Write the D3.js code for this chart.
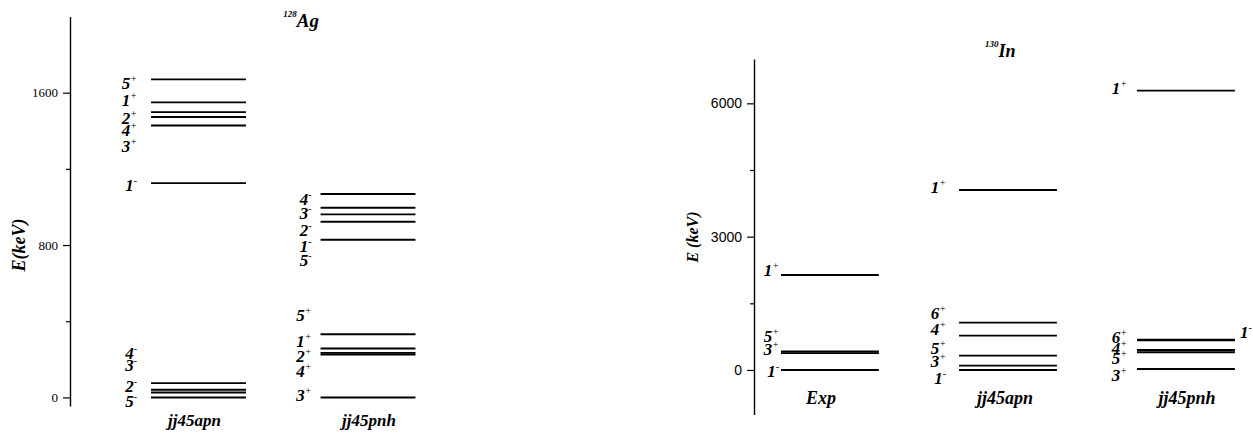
<!DOCTYPE html>
<html>
<head>
<meta charset="utf-8">
<script src="https://cdn.jsdelivr.net/npm/d3@7"></script>
<style>
  body { margin: 0; background: #fff; }
  svg { display: block; }
</style>
</head>
<body>
<svg id="chart" width="1253" height="436"></svg>
<script>
// ---- 128Ag level schemes (keV) ----
const agColumns = ["jj45apn", "jj45pnh"];
const agApnEnergy  = [1670, 1549, 1498, 1472, 1428, 1125, 75, 40, 26, 0];
const agApnSpin    = ["5+", "1+", "2+", "4+", "3+", "1-", "4-", "3-", "2-", "5-"];
const agApnLabelAt = [1649, 1561, 1467, 1404, 1316, 1115, 231, 170, 56, -23];
const agPnhEnergy  = [1068, 996, 961, 922, 828, 332, 257, 234, 225, 0];
const agPnhSpin    = ["4-", "3-", "2-", "1-", "5-", "5+", "1+", "2+", "4+", "3+"];
const agPnhLabelAt = [1041, 966, 879, 795, 721, 432, 292, 213, 134, 12];
const agTicks      = [0, 800, 1600];
const agMinorTicks = [400, 1200];

// ---- 130In level schemes (keV) ----
const inColumns = ["Exp", "jj45apn", "jj45pnh"];
const inExpEnergy  = [2138, 415, 378, 0];
const inExpSpin    = ["1+", "5+", "3+", "1-"];
const inExpLabelAt = [2234, 749, 450, -38];
const inApnEnergy  = [4050, 1065, 772, 322, 97, 0];
const inApnSpin    = ["1+", "6+", "4+", "5+", "3+", "1-"];
const inApnLabelAt = [4095, 1276, 900, 488, 187, -187];
const inPnhEnergy  = [6285, 680, 670, 450, 400, 22];
const inPnhSpin    = ["1+", "1-", "6+", "4+", "5+", "3+"];
const inPnhLabelAt = [6338, 846, 736, 488, 263, -135];
const inTicks      = [0, 3000, 6000];
const inMinorTicks = [1500, 4500];

const SERIF = "'Liberation Serif', 'Times New Roman', serif";
const SANS  = "'Liberation Sans', Arial, sans-serif";

const svg = d3.select("#chart");

function levelRows(energy, spin, labelAt, rightSide) {
  return energy.map((e, i) => ({
    e, spin: spin[i], labelAt: labelAt[i],
    right: rightSide ? rightSide.includes(spin[i]) : false
  }));
}

function drawPanel(p) {
  const g = svg.append("g");

  const x = d3.scaleBand()
    .domain(p.columns)
    .range(p.xRange)
    .paddingInner(p.padIn)
    .paddingOuter(p.padOut);

  const y = d3.scaleLinear().domain(p.yDomain).range(p.yRange);

  // axis with major ticks and labels
  const axis = d3.axisLeft(y)
    .tickValues(p.ticks)
    .tickFormat(d3.format("d"))
    .tickSize(7)
    .tickSizeOuter(0)
    .tickPadding(5);
  const ag = g.append("g")
    .attr("transform", `translate(${p.axisX},0)`)
    .attr("font-family", p.tickFont)
    .attr("font-size", p.tickSize)
    .call(axis);
  ag.select(".domain").attr("stroke", "#000").attr("stroke-width", 1.4);
  ag.selectAll(".tick line").attr("stroke", "#000").attr("stroke-width", 1.2);
  ag.selectAll(".tick text")
    .attr("fill", "#000")
    .style("font-family", p.tickFont)
    .style("font-size", p.tickSize + "px");

  // minor ticks
  const minor = d3.axisLeft(y)
    .tickValues(p.minorTicks)
    .tickSize(4)
    .tickSizeOuter(0)
    .tickFormat("");
  const mg = g.append("g")
    .attr("transform", `translate(${p.axisX},0)`)
    .call(minor);
  mg.select(".domain").remove();
  mg.selectAll(".tick line").attr("stroke", "#000").attr("stroke-width", 1.2);

  // y-axis title
  g.append("text")
    .attr("transform", `translate(${p.yTitleX},${p.yTitleY}) rotate(-90)`)
    .attr("text-anchor", "middle")
    .style("font-family", SERIF)
    .style("font-weight", "bold")
    .style("font-style", "italic")
    .style("font-size", p.yTitleSize + "px")
    .text(p.yTitle);

  // nucleus title
  const mid = (x(p.columns[0]) + x(p.columns[p.columns.length - 1]) + x.bandwidth()) / 2;
  const t = g.append("text")
    .attr("x", mid + p.titleShift)
    .attr("y", p.titleY)
    .style("font-family", SERIF)
    .style("font-weight", "bold")
    .style("font-style", "italic");
  t.append("tspan").style("font-size", p.massSize + "px").text(p.mass);
  t.append("tspan").attr("dy", p.massDy).style("font-size", p.elemSize + "px").text(p.element);

  // columns of levels
  p.columns.forEach((col, ci) => {
    const rows = p.levels[ci];
    const x0 = x(col), x1 = x0 + x.bandwidth();
    const cg = g.append("g");

    cg.selectAll("line.level")
      .data(rows)
      .join("line")
      .attr("class", "level")
      .attr("x1", x0).attr("x2", x1)
      .attr("y1", d => y(d.e)).attr("y2", d => y(d.e))
      .attr("stroke", "#000")
      .attr("stroke-width", 1.9);

    const lbl = cg.selectAll("text.spin")
      .data(rows)
      .join("text")
      .attr("class", "spin")
      .attr("x", d => d.right ? x1 + 5 : x0 - p.labelGap[ci])
      .attr("y", d => y(d.labelAt) + 5.5)
      .attr("text-anchor", d => d.right ? "start" : "end")
      .style("font-family", SERIF)
      .style("font-style", "italic");
    lbl.append("tspan")
      .style("font-weight", "bold")
      .style("font-size", "17px")
      .text(d => d.spin.slice(0, -1));
    lbl.append("tspan")
      .attr("dy", -7)
      .style("font-size", "10px")
      .text(d => d.spin.slice(-1));

    // column caption
    g.append("text")
      .attr("x", x0 + x.bandwidth() / 2 + p.captionShift[ci])
      .attr("y", p.captionY)
      .attr("text-anchor", "middle")
      .style("font-family", SERIF)
      .style("font-weight", "bold")
      .style("font-style", "italic")
      .style("font-size", p.captionSize + "px")
      .text(col);
  });
}

drawPanel({
  columns: agColumns,
  levels: [
    levelRows(agApnEnergy, agApnSpin, agApnLabelAt),
    levelRows(agPnhEnergy, agPnhSpin, agPnhLabelAt)
  ],
  xRange: [70, 496.5], padIn: 0.44, padOut: 0.478,
  yDomain: [-45, 2000], yRange: [406, 16.5],
  axisX: 70,
  ticks: agTicks, minorTicks: agMinorTicks,
  tickFont: SERIF, tickSize: 13,
  yTitle: "E(keV)", yTitleX: 25, yTitleY: 245, yTitleSize: 18,
  mass: "128", element: "Ag", massSize: 9, elemSize: 19, massDy: 10,
  titleY: 17, titleShift: 0,
  labelGap: [14, 9],
  captionY: 426, captionSize: 17, captionShift: [-4, 1]
});

drawPanel({
  columns: inColumns,
  levels: [
    levelRows(inExpEnergy, inExpSpin, inExpLabelAt),
    levelRows(inApnEnergy, inApnSpin, inApnLabelAt),
    levelRows(inPnhEnergy, inPnhSpin, inPnhLabelAt, ["1-"])
  ],
  xRange: [754.3, 1261.6], padIn: 0.45, padOut: 0.15,
  yDomain: [-1000, 7000], yRange: [414.4, 58.9],
  axisX: 754,
  ticks: inTicks, minorTicks: inMinorTicks,
  tickFont: SANS, tickSize: 14,
  yTitle: "E (keV)", yTitleX: 698, yTitleY: 237, yTitleSize: 16,
  mass: "130", element: "In", massSize: 9, elemSize: 18, massDy: 10,
  titleY: 47, titleShift: -23,
  labelGap: [2, 13, 10],
  captionY: 404, captionSize: 18, captionShift: [-9, -3, 1]
});
</script>
</body>
</html>
